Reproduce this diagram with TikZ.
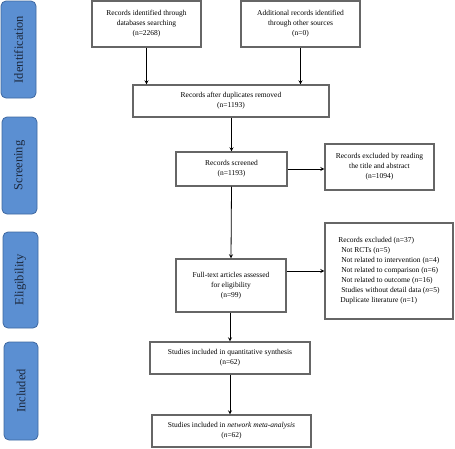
\documentclass[tikz,border=0pt]{standalone}
\usepackage{fontspec}
\setmainfont{Liberation Serif}
\usetikzlibrary{arrows}

\begin{document}
\begin{tikzpicture}[x=1pt,y=-1pt,
    box/.style={draw=black!60,line width=1.3pt,fill=white,align=center,
        inner sep=2pt,font=\fontsize{7.5}{10}\selectfont},
    stage/.style={draw=st_edge,line width=0.8pt,fill=st_blue,rounded corners=5pt,
        rotate=90,inner sep=0pt,text=st_text,font=\fontsize{12.5}{14}\selectfont},
    flow/.style={thick,>=stealth,->,color=black}]

% ------------------------------------------------ prisma colors
\definecolor{st_blue}{RGB}{91,143,210}  %#5B8FD2
\definecolor{st_edge}{RGB}{62,104,160}  %#3E68A0
\definecolor{st_text}{RGB}{28,40,60}    %#1C283C

\useasboundingbox (0,0) rectangle (455,448);

% stages
\node[stage,minimum width=97,minimum height=35] (ident) at (18.5,49.5) {Identification};
\node[stage,minimum width=97,minimum height=35] (screen) at (19.5,165.5) {Screening};
\node[stage,minimum width=96,minimum height=35] (elig) at (20.5,280) {Eligibility};
\node[stage,minimum width=98,minimum height=34] (incl) at (21,391) {Included};

% boxes
\node[box,minimum width=109,minimum height=46] (dbase) at (146.5,24) {Records identified through\\databases searching\\(n=2268)};
\node[box,minimum width=119,minimum height=46] (other) at (300.5,24) {Additional records identified\\through other sources\\(n=0)};
\node[box,minimum width=196,minimum height=32] (dupl) at (231,101) {Records after duplicates removed\\(n=1193)};
\node[box,minimum width=111,minimum height=34] (scrn) at (231.5,169) {Records screened\\(n=1193)};
\node[box,minimum width=109,minimum height=46] (excl) at (379.5,167) {Records excluded by reading\\the title and abstract\\(n=1094)};
\node[box,minimum width=110,minimum height=53] (full) at (231,285.5) {Full-text articles assessed\\for eligibility\\(n=99)};
\node[box,minimum width=128,minimum height=96,align=left] (reasons) at (389,271) {Records excluded (n=37)\\%
    \hspace*{3pt}Not RCTs (n=5)\\%
    \hspace*{3pt}Not related to intervention (n=4)\\%
    \hspace*{3pt}Not related to comparison (n=6)\\%
    \hspace*{3pt}Not related to outcome (\textit{n}=16)\\%
    \hspace*{3pt}Studies without detail data (\textit{n}=5)\\%
    \hspace*{2pt}Duplicate literature (\textit{n}=1)};
\node[box,minimum width=160,minimum height=32] (quant) at (230,358) {Studies included in quantitative synthesis\\(n=62)};
\node[box,minimum width=159,minimum height=32] (nma) at (231.5,431) {Studies included in \textit{network meta-analysis}\\(\textit{n}=62)};

% arrows
\draw[flow] (dbase.south) -- (dbase.south |- dupl.north);
\draw[flow] (other.south) -- (other.south |- dupl.north);
\draw[flow] (dupl.south -| scrn.north) -- (scrn.north);
\draw[flow] (scrn.east) -- (scrn.east -| excl.west);
\draw[flow] (scrn.south) -- (full.north);
\draw[flow] (reasons.west -| full.east) -- (reasons.west);
\draw[flow] (full.south -| quant.north) -- (quant.north);
\draw[flow] (quant.south) -- (quant.south |- nma.north);

\end{tikzpicture}
\end{document}
